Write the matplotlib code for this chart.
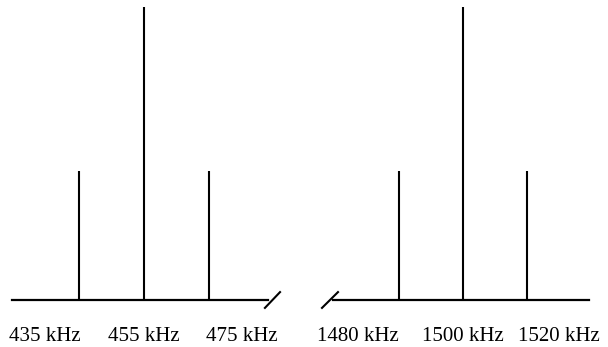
import matplotlib.pyplot as plt

# spectrum of an AM signal: IF band (left) and RF band (right)
if_freqs = [435, 455, 475]
rf_freqs = [1480, 1500, 1520]
amplitudes = [0.44, 1.0, 0.44]
if_labels = ['435 kHz', '455 kHz', '475 kHz']
rf_labels = ['1480 kHz', '1500 kHz', '1520 kHz']

W, H = 608, 347
fig = plt.figure(figsize=(W / 100, H / 100), dpi=100)
plt.rcParams['font.family'] = ['Liberation Serif', 'DejaVu Serif']


def px_axes(left, right, top, bottom):
    return fig.add_axes([left / W, 1 - bottom / H, (right - left) / W, (bottom - top) / H])


ax1 = px_axes(12, 268, 7, 300)
ax2 = px_axes(333, 589, 7, 300)

ax1.set_xlim(414.4, 493.2)
ax2.set_xlim(1459.4, 1539.4)

for ax, freqs, labels, label_x in [
        (ax1, if_freqs, if_labels, [424.5, 455, 485.2]),
        (ax2, rf_freqs, rf_labels, [1467.2, 1500, 1530])]:
    ax.set_ylim(0, 1)
    ax.axis('off')
    ax.vlines(freqs, 0, amplitudes, color='black', lw=1.5)
    ax.axhline(0, color='black', lw=1.6, clip_on=False)
    for x, lab in zip(label_x, labels):
        ax.text(x, -0.14, lab, ha='center', va='baseline', fontsize=15,
                transform=ax.get_xaxis_transform())

# break marks
ax1.plot([0.988, 1.047], [-0.027, 0.027], color='black', lw=1.5,
         transform=ax1.transAxes, clip_on=False)
ax2.plot([-0.043, 0.0195], [-0.027, 0.027], color='black', lw=1.5,
         transform=ax2.transAxes, clip_on=False)

fig.savefig('out.png', dpi=100)
